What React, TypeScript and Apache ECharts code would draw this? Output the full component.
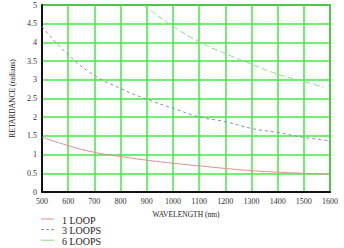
import React, { useEffect, useRef } from "react";
import * as echarts from "echarts";

const wavelengths1 = [500, 600, 700, 800, 900, 1000, 1100, 1200, 1300, 1400, 1500, 1600];
const loop1 = [1.47, 1.24, 1.06, 0.95, 0.85, 0.77, 0.70, 0.63, 0.57, 0.53, 0.50, 0.47];
const loop3 = [4.42, 3.67, 3.12, 2.77, 2.48, 2.24, 2.01, 1.88, 1.70, 1.59, 1.46, 1.37];
const wavelengths6 = [888, 900, 1000, 1100, 1200, 1300, 1400, 1500, 1575];
const loop6 = [5.0, 4.93, 4.43, 4.02, 3.70, 3.42, 3.15, 2.96, 2.8];
const seriesNames = ["1 LOOP", "3 LOOPS", "6 LOOPS"];
const seriesColors = ["#e8899a", "#8888cc", "#88dd88"];

const pair = (xs: number[], ys: number[]) => xs.map((x, i) => [x, ys[i]]);

export default function App() {
  const ref = useRef<HTMLDivElement>(null);
  useEffect(() => {
    const chart = echarts.init(ref.current!, null, { renderer: "svg" });
    const font = "Liberation Serif";
    const legendDash: (number[] | null)[] = [null, [3, 2], null];
    const legendGraphics: any[] = [];
    seriesNames.forEach((name, i) => {
      const y = 220 + i * 10.6;
      legendGraphics.push({
        type: "line",
        shape: { x1: 41, y1: y - 1, x2: 54, y2: y - 1 },
        style: { stroke: seriesColors[i], lineWidth: 1, lineDash: legendDash[i] || undefined },
      });
      legendGraphics.push({
        type: "text",
        x: 62,
        y: y,
        style: { text: name, font: `10px "${font}"`, fill: "#222", textVerticalAlign: "middle", verticalAlign: "middle" },
      });
    });
    chart.setOption({
      animation: false,
      backgroundColor: "#ffffff",
      textStyle: { fontFamily: font },
      grid: { left: 42, top: 5, right: 14, bottom: 56, show: true, borderColor: "#333", borderWidth: 1.5 },
      graphic: legendGraphics,
      xAxis: {
        type: "value",
        min: 500,
        max: 1600,
        interval: 100,
        name: "WAVELENGTH (nm)",
        nameLocation: "middle",
        nameGap: 18,
        nameTextStyle: { fontFamily: font, fontSize: 7.5, color: "#222" },
        axisLine: { lineStyle: { color: "#111", width: 2 } },
        axisTick: { show: false },
        axisLabel: { fontFamily: font, fontSize: 8, color: "#333", margin: 5, formatter: (v: number) => String(v) },
        splitLine: { lineStyle: { color: "#44e844", width: 1.5 } },
      },
      yAxis: {
        type: "value",
        min: 0,
        max: 5,
        interval: 0.5,
        name: "RETARDANCE (radians)",
        nameLocation: "middle",
        nameGap: 26,
        nameTextStyle: { fontFamily: font, fontSize: 7.5, color: "#222" },
        axisLine: { show: true, lineStyle: { color: "#111", width: 2 } },
        axisTick: { show: false },
        axisLabel: { fontFamily: font, fontSize: 8, color: "#333", margin: 5 },
        splitLine: { lineStyle: { color: "#44e844", width: 1.5 } },
      },
      series: [
        {
          name: seriesNames[0],
          type: "line",
          data: pair(wavelengths1, loop1),
          symbol: "none",
          smooth: true,
          lineStyle: { color: seriesColors[0], width: 1 },
          z: 5,
        },
        {
          name: seriesNames[1],
          type: "line",
          data: pair(wavelengths1, loop3),
          symbol: "none",
          smooth: true,
          lineStyle: { color: seriesColors[1], width: 1, type: [3, 3] },
          z: 5,
        },
        {
          name: seriesNames[2],
          type: "line",
          data: pair(wavelengths6, loop6),
          symbol: "none",
          smooth: true,
          lineStyle: { color: seriesColors[2], width: 1, type: [6, 3] },
          z: 5,
        },
      ],
    });
    return () => chart.dispose();
  }, []);
  return <div ref={ref} style={{ width: 344, height: 248, position: "absolute", left: 0, top: 0 }} />;
}
